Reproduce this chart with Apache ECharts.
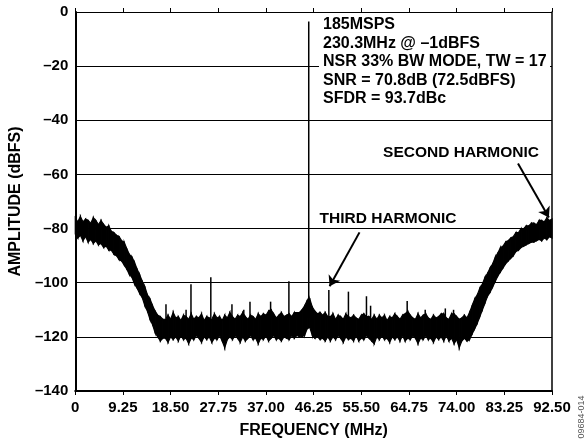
<!DOCTYPE html>
<html>
<head>
<meta charset="utf-8">
<script src="https://cdn.jsdelivr.net/npm/echarts@6/dist/echarts.min.js"></script>
<style>html,body{margin:0;padding:0;background:#fff;}#c{width:584px;height:444px;}</style>
</head>
<body>
<div id="c"></div>
<script>
// ---- data ----
var STEP = 0.5; // MHz between envelope samples (0 .. 92.5)
var noiseHi = [
-76,-77.5,-75.5,-77.5,-76.5,-77,-78,-76,-77,-78.5,-77,-78.5,-79.5,-79,-81,-81.5,-82.5,-83,-84.5,-85,
-87.5,-89.5,-90.5,-92.5,-95,-97,-99.5,-101.5,-104.5,-106,-108.5,-110.5,-112,-112.5,-113.5,
-113.5,-112,-113.5,-111,-113,-112.5,-114,-112,-112.5,-113.5,-111.5,-113.5,-112.5,-113,-111.5,-114,-112.5,-113,-113.5,-111.5,
-113,-112.5,-114,-112,-113,-111,-112.5,-113.5,-112,-112.5,-111,-112.5,-113.5,-112,-112.5,-113.5,-111.5,-112.5,-111.5,-112,
-110.5,-110,-111.5,-113,-112,-111,-112.5,-112,-111.5,-112.5,-111,-111,
-111,-110,-108.5,-106.5,-106,-109,-110.5,-111.5,-111,
-112,-111,-112.5,-112.5,-111.5,-113.5,-112,-112.5,-113.5,-111.5,-112.5,-113,-112,-113,-113.5,-112,-111.5,-112.5,-112.5,-113.5,
-112,-113.5,-112,-113,-112,-114,-112.5,-113,-111.5,-112.5,-113.5,-112,-111.5,-110.5,-112,-113,-113.5,-111.5,-113,-112,
-111.5,-113,-113.5,-112,-113,-112.5,-111.5,-111.5,-113,-113.5,-111.5,-111.5,-112.5,-113.5,-113,-112,-113,
-111,-108.5,-106,-104.5,-102,-100.5,-98,-96.5,-94.5,-93,-90.5,-89,-87,-86.5,-85,-84.5,-83.5,-83,-81.5,-81.5,
-80,-80,-79,-79,-78,-78,-78.5,-77,-77,-77.5,-76,-77,-76.5
];
var noiseLo = [
-82,-83.5,-82.5,-84.5,-83,-85,-84,-85.5,-84.5,-86,-85.5,-87,-86.5,-88,-88,-89.5,-90,-91.5,-92,-93.5,
-95,-97,-98,-100.5,-102,-104,-105.5,-108.5,-110.5,-113.5,-115.5,-118.5,-120,-121.5,-120.5,
-120.5,-122,-120,-121,-120,-121.5,-119.5,-121,-120.5,-122.5,-120.5,-121,-119.5,-120.5,-122,-120,-121,-120,-122,-120.5,
-121,-119.5,-121.5,-124,-121,-120,-121,-119.5,-120.5,-122,-120,-121.5,-120.5,-119.5,-121,-120.5,-122.5,-120.5,-121,-119.5,
-121.5,-120.5,-119.5,-121,-120.5,-121.5,-120,-120.5,-121,-119.5,-120.5,-119.5,
-120,-120,-119.5,-117,-116.5,-119.5,-120.5,-120,-121,
-120.5,-121.5,-120,-121.5,-120,-121,-119.5,-120.5,-122,-120,-121,-120.5,-121.5,-119.5,-121.5,-120.5,-121,-119.5,-120.5,-121.5,
-122.5,-120,-121,-119.5,-121,-120.5,-122,-120,-121,-120,-121.5,-119.5,-121.5,-120.5,-121,-119.5,-120.5,-122.5,-120.5,-121,
-119.5,-121,-120.5,-122,-120,-121,-120,-121.5,-119.5,-121.5,-120.5,-122.5,-121,-124,-121.5,-120.5,-121.5,
-121,-119,-117,-115,-112.5,-110,-107.5,-105,-103.5,-101.5,-99.5,-97.5,-96,-94.5,-93,-92,-91,-90,-88.5,-88,
-87,-86.5,-86,-85.5,-85,-85,-84.5,-84,-84.5,-83.5,-84,-83,-83.5
];
var spurFreq = [17.6, 21.5, 22.45, 26.3, 30.4, 32.7, 33.9, 37.9, 41.45, 45.3, 49.2, 53.0, 56.5, 57.3, 64.4, 67.9, 71.8, 73.4];
var spurDb   = [-108, -110, -100.6, -98, -108, -110, -107, -107, -99.5, -3.5, -102.7, -103.3, -105, -108.5, -106.8, -110, -109.5, -110];
var SPUR_BASE = -113;
var xTickLabels = ['0','9.25','18.50','27.75','37.00','46.25','55.50','64.75','74.00','83.25','92.50'];
var yTickLabels = ['\u2013140','\u2013120','\u2013100','\u201380','\u201360','\u201340','\u201320','0'];
var infoLines = ['185MSPS','230.3MHz @ \u20131dBFS','NSR 33% BW MODE, TW = 17','SNR = 70.8dB (72.5dBFS)','SFDR = 93.7dBc'];

var bandData = noiseHi.map(function(h, i){ return [i*STEP, h, noiseLo[i]]; });
var spurData = spurFreq.map(function(f, i){ return [f, spurDb[i]]; });

var FONT = 'Liberation Sans, Arial, sans-serif';
var chart = echarts.init(document.getElementById('c'));
chart.setOption({
  animation: false,
  backgroundColor: '#fff',
  grid: {left: 74, right: 32, top: 12, bottom: 52},
  xAxis: [{
    type: 'value', min: 0, max: 92.5, interval: 9.25,
    name: 'FREQUENCY (MHz)', nameLocation: 'middle', nameGap: 32,
    nameTextStyle: {fontFamily: FONT, fontWeight: 'bold', fontSize: 16, color: '#000'},
    axisLine: {show: true, onZero: false, lineStyle: {color: '#000', width: 2}},
    axisTick: {show: true, inside: false, length: 4, lineStyle: {color: '#000', width: 1}},
    axisLabel: {margin: 9, fontFamily: FONT, fontWeight: 'bold', fontSize: 15, color: '#000',
      formatter: function(v){ return xTickLabels[Math.round(v/9.25)]; }},
    splitLine: {show: false}
  }, {
    type: 'value', min: 0, max: 92.5, interval: 9.25, position: 'bottom',
    axisLine: {show: false},
    axisTick: {show: true, inside: true, length: 4, lineStyle: {color: '#000', width: 1}},
    axisLabel: {show: false}, splitLine: {show: false}
  }],
  yAxis: [{
    type: 'value', min: -140, max: 0, interval: 20,
    name: 'AMPLITUDE (dBFS)', nameLocation: 'middle', nameGap: 45, nameRotate: 90,
    nameTextStyle: {fontFamily: FONT, fontWeight: 'bold', fontSize: 16, color: '#000'},
    axisLine: {show: true, onZero: false, lineStyle: {color: '#000', width: 2}},
    axisTick: {show: false},
    axisLabel: {margin: 7, fontFamily: FONT, fontWeight: 'bold', fontSize: 15, color: '#000',
      formatter: function(v){ return yTickLabels[Math.round((v+140)/20)]; }},
    splitLine: {show: true, lineStyle: {color: '#000', width: 1}}
  }, {
    type: 'value', min: -140, max: 0, interval: 20, position: 'right',
    axisLine: {show: true, onZero: false, lineStyle: {color: '#000', width: 1.5}},
    axisTick: {show: false}, axisLabel: {show: false}, splitLine: {show: false}
  }],
  series: [{
    type: 'custom',
    data: bandData,
    encode: {x: 0, y: [1, 2]},
    renderItem: function(params, api){
      var i = params.dataIndex;
      if (i >= bandData.length - 1) return null;
      var n = bandData[i+1];
      var a = api.coord([api.value(0), api.value(1)]);
      var b = api.coord([n[0], n[1]]);
      var c = api.coord([n[0], n[2]]);
      var d = api.coord([api.value(0), api.value(2)]);
      return {type: 'polygon', shape: {points: [a, b, c, d]},
        style: {fill: '#000', stroke: '#000', lineWidth: 1.2, lineJoin: 'miter'}};
    },
    z: 3
  }, {
    type: 'custom',
    data: spurData,
    encode: {x: 0, y: 1},
    renderItem: function(params, api){
      var p0 = api.coord([api.value(0), SPUR_BASE]);
      var p1 = api.coord([api.value(0), api.value(1)]);
      return {type: 'line', shape: {x1: p0[0], y1: p0[1], x2: p1[0], y2: p1[1]},
        style: {stroke: '#000', lineWidth: 1.5}};
    },
    z: 4
  }, {
    type: 'line', data: [], silent: true,
    markLine: {
      silent: true, symbol: ['none', 'arrow'], symbolSize: 10, animation: false,
      label: {show: false},
      lineStyle: {color: '#000', width: 2, type: 'solid'},
      data: [
        [{coord: [85.9, -56.0]}, {coord: [91.9, -75.9]}],
        [{coord: [55.15, -81.4]}, {coord: [49.35, -101.3]}]
      ]
    }
  }],
  graphic: [
    {type: 'rect', z: 90, shape: {x: 319, y: 14, width: 231, height: 95}, style: {fill: '#fff'}},
    {type: 'text', z: 100, x: 323, y: 25, style: {text: infoLines[0], font: 'bold 16px ' + FONT, fill: '#000', verticalAlign: 'middle'}},
    {type: 'text', z: 100, x: 323, y: 43.5, style: {text: infoLines[1], font: 'bold 16px ' + FONT, fill: '#000', verticalAlign: 'middle'}},
    {type: 'text', z: 100, x: 323, y: 62, style: {text: infoLines[2], font: 'bold 16px ' + FONT, fill: '#000', verticalAlign: 'middle'}},
    {type: 'text', z: 100, x: 323, y: 80.5, style: {text: infoLines[3], font: 'bold 16px ' + FONT, fill: '#000', verticalAlign: 'middle'}},
    {type: 'text', z: 100, x: 323, y: 99, style: {text: infoLines[4], font: 'bold 16px ' + FONT, fill: '#000', verticalAlign: 'middle'}},
    {type: 'text', z: 100, x: 461, y: 153, style: {text: 'SECOND HARMONIC', font: 'bold 15.5px ' + FONT, fill: '#000', align: 'center', verticalAlign: 'middle'}},
    {type: 'text', z: 100, x: 388, y: 219, style: {text: 'THIRD HARMONIC', font: 'bold 15.5px ' + FONT, fill: '#000', align: 'center', verticalAlign: 'middle'}},
    {type: 'text', z: 100, x: 582, y: 417, rotation: Math.PI/2, style: {text: '09684-014', font: '9px ' + FONT, fill: '#555', align: 'center', verticalAlign: 'middle'}}
  ]
});
</script>
</body>
</html>
